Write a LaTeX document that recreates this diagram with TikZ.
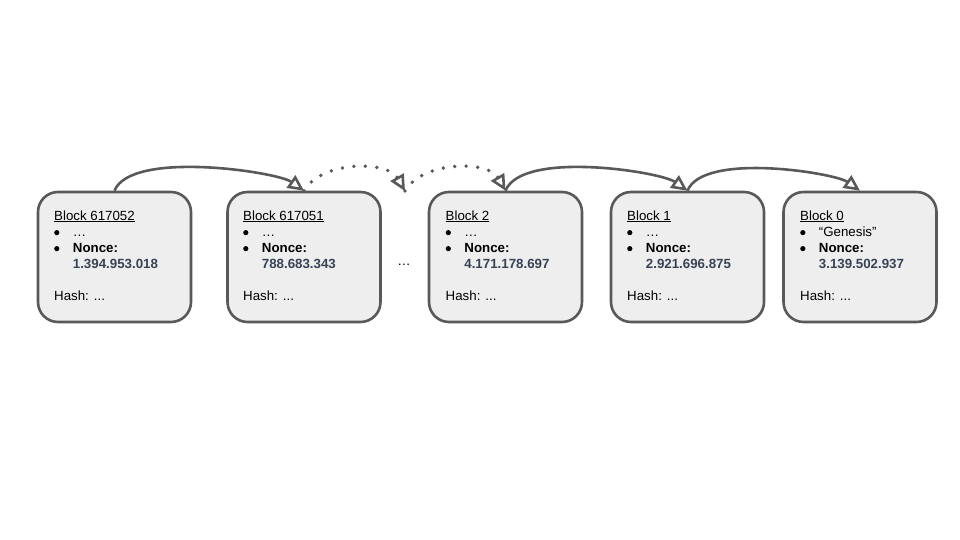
\documentclass[tikz,border=0pt]{standalone}
\usepackage{fontspec}
\setmainfont{Liberation Sans}
\usetikzlibrary{arrows.meta}
\definecolor{edge}{HTML}{595959}
\definecolor{boxfill}{HTML}{EEEEEE}
\definecolor{val}{HTML}{374357}
\newcommand{\bdot}{\tikz[baseline=0pt]\fill[black] (2.8pt,3.5pt) circle (2.6pt);}
\newcommand{\bitem}[1]{\makebox[18.7pt][l]{\bdot}#1}
\newcommand{\vitem}[1]{\hspace{18.7pt}{\bfseries\color{val}#1}}
\begin{document}
\begin{tikzpicture}[x=1pt,y=1pt,
  block/.style={draw=edge, fill=boxfill, line width=2.6pt, rounded corners=20pt,
    minimum width=153pt, minimum height=130pt, inner sep=0pt},
  txt/.style={anchor=north west, align=left, inner sep=0pt,
    font=\fontsize{13.3}{16}\selectfont},
  conn/.style={draw=edge, line width=2.6pt, -{Triangle[open, length=16pt, width=15pt]}},
  dotconn/.style={conn, line width=3.8pt, dash pattern=on 0pt off 11.5pt, line cap=round,
    -{Triangle[open, length=16pt, width=15pt, line width=2.6pt]}}
]
\useasboundingbox (0,0) rectangle (960,540);
\node[block] (b1) at (114.5,283) {};
\node[block] (b2) at (304,283) {};
\node[block] (b3) at (505.5,283) {};
\node[block] (b4) at (687.5,283) {};
\node[block] (b5) at (860,283) {};

\node[txt] (t1) at (54,329.7) {\underline{Block 617052}\\ \bitem{…}\\ \bitem{\textbf{Nonce:}}\\ \vitem{1.394.953.018}\\[16pt] Hash: ...};
\node[txt] (t2) at (243,329.7) {\underline{Block 617051}\\ \bitem{…}\\ \bitem{\textbf{Nonce:}}\\ \vitem{788.683.343}\\[16pt] Hash: ...};
\node[txt] (t3) at (445.5,329.7) {\underline{Block 2}\\ \bitem{…}\\ \bitem{\textbf{Nonce:}}\\ \vitem{4.171.178.697}\\[16pt] Hash: ...};
\node[txt] (t4) at (627,329.7) {\underline{Block 1}\\ \bitem{…}\\ \bitem{\textbf{Nonce:}}\\ \vitem{2.921.696.875}\\[16pt] Hash: ...};
\node[txt] (t5) at (800,329.7) {\underline{Block 0}\\ \bitem{“Genesis”}\\ \bitem{\textbf{Nonce:}}\\ \vitem{3.139.502.937}\\[16pt] Hash: ...};

\node[anchor=base, inner sep=0pt, font=\fontsize{13.3}{16}\selectfont] (gapdots) at (404,274.5) {…};
\coordinate (gap) at (405,349);

\draw[conn] (b1.north) .. controls +(68:44) and +(145:33) .. (b2.north);
\draw[dotconn] (b2.north) .. controls +(60:35) and +(120:35) .. (gap);
\draw[dotconn] (gap) .. controls +(60:35) and +(120:35) .. (b3.north);
\draw[conn] (b3.north) .. controls +(68:44) and +(145:33) .. (b4.north);
\draw[conn] (b4.north) .. controls +(68:42) and +(145:31) .. (b5.north);
\end{tikzpicture}
\end{document}
